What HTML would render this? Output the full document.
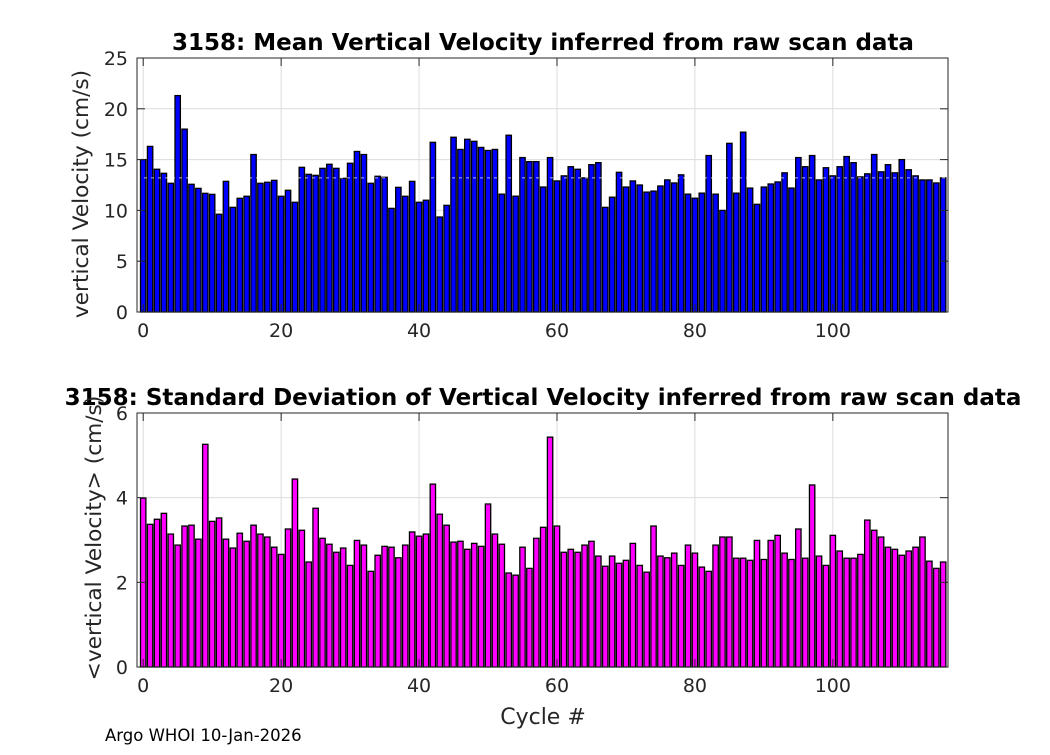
<!DOCTYPE html>
<html><head><meta charset="utf-8"><style>
body{margin:0;background:#fff;}
svg text{font-family:"DejaVu Sans","Liberation Sans",sans-serif;fill:#262626;}
</style></head><body>
<svg id="chart" width="1050" height="750" xmlns="http://www.w3.org/2000/svg">
<rect width="1050" height="750" fill="#fff"/>
<text x="543" y="50" text-anchor="middle" font-size="23" font-weight="bold" style="fill:#000">3158: Mean Vertical Velocity inferred from raw scan data</text>
<text x="543" y="405" text-anchor="middle" font-size="23" font-weight="bold" style="fill:#000">3158: Standard Deviation of Vertical Velocity inferred from raw scan data</text>
<text transform="translate(88,194) rotate(-90)" text-anchor="middle" font-size="21.7">vertical Velocity (cm/s)</text>
<text transform="translate(101,538) rotate(-90)" text-anchor="middle" font-size="21.7">&lt;vertical Velocity&gt; (cm/s)</text>
<text x="543" y="724" text-anchor="middle" font-size="22">Cycle #</text>
<text x="105" y="741" font-size="16.5" style="fill:#000">Argo WHOI 10-Jan-2026</text>
<g id="top"></g><g id="bot"></g>
</svg>
<script>
const cycles = Array.from({length:117},(_, i)=>i);
const meanVel = [15.0,16.3,14.05,13.65,12.67,21.3,18.0,12.57,12.17,11.68,11.58,9.62,12.86,10.3,11.19,11.39,15.5,12.67,12.77,12.96,11.39,11.98,10.8,14.24,13.55,13.45,14.14,14.54,14.14,13.16,14.64,15.8,15.5,12.67,13.36,13.26,10.2,12.27,11.39,12.86,10.8,11.0,16.7,9.35,10.5,17.2,16.0,17.0,16.8,16.2,15.9,16.0,11.6,17.4,11.4,15.2,14.8,14.8,12.3,15.2,12.9,13.4,14.3,14.05,13.2,14.5,14.7,10.3,11.3,13.75,12.3,12.9,12.5,11.8,11.9,12.4,13.0,12.7,13.5,11.6,11.2,11.7,15.4,11.6,10.0,16.6,11.7,17.7,12.2,10.6,12.3,12.6,12.8,13.7,12.2,15.2,14.3,15.4,13.0,14.2,13.4,14.3,15.3,14.7,13.3,13.6,15.5,13.8,14.5,13.7,15.0,14.0,13.4,13.0,13.0,12.7,13.2];
const stdVel = [3.99,3.37,3.49,3.63,3.14,2.88,3.33,3.35,3.02,5.26,3.44,3.52,3.02,2.81,3.16,2.97,3.35,3.14,3.07,2.83,2.66,3.26,4.44,3.23,2.48,3.75,3.04,2.9,2.71,2.81,2.4,2.99,2.88,2.26,2.64,2.85,2.83,2.58,2.88,3.19,3.09,3.14,4.32,3.61,3.35,2.95,2.97,2.78,2.92,2.85,3.85,3.14,2.9,2.22,2.17,2.83,2.33,3.04,3.3,5.43,3.33,2.71,2.78,2.71,2.88,2.97,2.62,2.38,2.62,2.45,2.52,2.92,2.4,2.24,3.33,2.62,2.58,2.69,2.4,2.88,2.69,2.36,2.26,2.88,3.07,3.07,2.57,2.57,2.52,2.99,2.54,2.99,3.11,2.69,2.54,3.26,2.57,4.3,2.62,2.4,3.11,2.74,2.57,2.57,2.66,3.47,3.23,3.07,2.83,2.78,2.64,2.74,2.83,3.07,2.5,2.33,2.48];
const xTicks = [0,20,40,60,80,100];
const topYTicks = [0,5,10,15,20,25];
const botYTicks = [0,2,4,6];
const meanLine = 13.2;
const NS='http://www.w3.org/2000/svg';
function mk(g,tag,attrs){const e=document.createElementNS(NS,tag);for(const k in attrs)e.setAttribute(k,attrs[k]);g.appendChild(e);return e;}
const X0=137,X1=948;
const xs=v=>X0+(v+0.9)/(117.6)*(X1-X0);
function panel(gid,top,bottom,ymax,yTicks,vals,color,prefix,mean){
  const g=document.getElementById(gid);
  const ys=v=>bottom-v/ymax*(bottom-top);
  xTicks.forEach(t=>{const l=mk(g,'line',{x1:xs(t),x2:xs(t),y1:top,y2:bottom,stroke:'#dcdcdc','stroke-width':1});
    
    });
  yTicks.forEach(t=>{const l=mk(g,'line',{x1:X0,x2:X1,y1:ys(t),y2:ys(t),stroke:'#dcdcdc','stroke-width':1});
    
    });
  const w=0.78*(X1-X0)/117.6;
  vals.forEach((v,i)=>{const r=mk(g,'rect',{x:xs(cycles[i])-w/2,y:ys(v),width:w,height:ys(0)-ys(v),fill:color,stroke:'#000','stroke-width':1.3});
    
    });
  if(mean!==null){const l=mk(g,'line',{x1:X0,x2:X1,y1:ys(mean),y2:ys(mean),stroke:'#fff','stroke-width':1,'stroke-dasharray':'3,4','stroke-opacity':0.7});
    
    }
  const box=mk(g,'rect',{x:X0,y:top,width:X1-X0,height:bottom-top,fill:'none',stroke:'#262626','stroke-width':1});
  
  
  xTicks.forEach(t=>{mk(g,'line',{x1:xs(t),x2:xs(t),y1:bottom,y2:bottom-8,stroke:'#262626'});mk(g,'line',{x1:xs(t),x2:xs(t),y1:top,y2:top+8,stroke:'#262626'});
    const tx=mk(g,'text',{x:xs(t),y:bottom+25,'text-anchor':'middle','font-size':19});tx.textContent=t;
    
    });
  yTicks.forEach(t=>{mk(g,'line',{x1:X0,x2:X0+8,y1:ys(t),y2:ys(t),stroke:'#262626'});mk(g,'line',{x1:X1,x2:X1-8,y1:ys(t),y2:ys(t),stroke:'#262626'});
    const tx=mk(g,'text',{x:X0-9,y:ys(t)+7,'text-anchor':'end','font-size':19});tx.textContent=t;
    
    });
}
panel('top',58,312,25,topYTicks,meanVel,'#0000ff','mean',meanLine);
panel('bot',413,667,6,botYTicks,stdVel,'#ff00ff','std',null);
</script>
</body></html>
